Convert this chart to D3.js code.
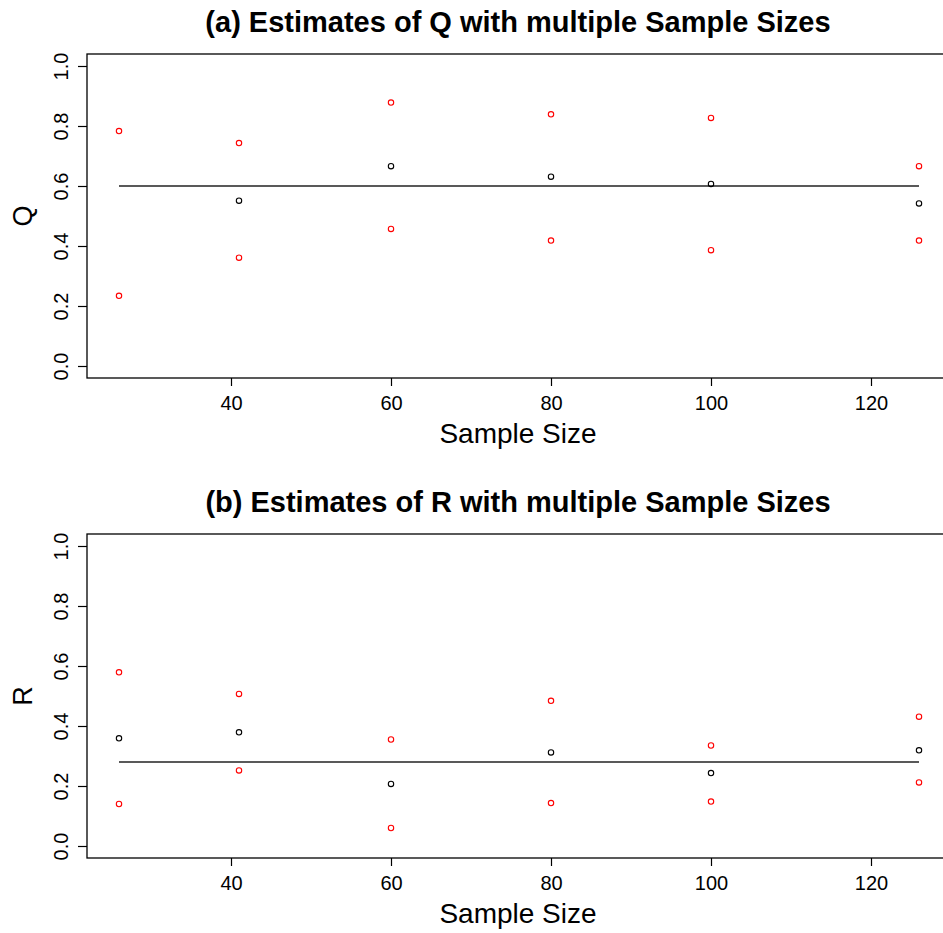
<!DOCTYPE html>
<html>
<head>
<meta charset="utf-8">
<script src="https://cdn.jsdelivr.net/npm/d3@7"></script>
<style>
  body { margin: 0; background: #fff; }
  text { font-family: "Liberation Sans", Arial, sans-serif; fill: #000; }
</style>
</head>
<body>
<div id="my_dataviz"></div>
<script>
// data
var sampleSizes = [26, 41, 60, 80, 100, 126];
var xTicks = [40, 60, 80, 100, 120];
var yTicks = [0, 0.2, 0.4, 0.6, 0.8, 1.0];

var qEst = [null, 0.551, 0.666, 0.631, 0.607, 0.542];
var qUpper = [0.783, 0.743, 0.878, 0.839, 0.827, 0.666];
var qLower = [0.234, 0.361, 0.457, 0.418, 0.386, 0.418];
var qTrue = 0.6;

var rEst = [0.359, 0.379, 0.207, 0.312, 0.243, 0.319];
var rUpper = [0.579, 0.507, 0.355, 0.484, 0.335, 0.431];
var rLower = [0.140, 0.252, 0.060, 0.143, 0.148, 0.212];
var rTrue = 0.28;

var width = 943, height = 933;

var svg = d3.select("#my_dataviz")
  .append("svg")
  .attr("width", width)
  .attr("height", height);

// shared x scale (R style 4% extension, plot runs off the right edge)
var x = d3.scaleLinear()
  .domain([22, 130])
  .range([87, 951]);

function drawPanel(top, title, yLab, est, upper, lower, trueVal) {
  var bottom = top + 324;
  var y = d3.scaleLinear()
    .domain([-0.04, 1.04])
    .range([bottom, top]);

  var g = svg.append("g");

  // title
  g.append("text")
    .attr("x", 518)
    .attr("y", top - 22)
    .attr("text-anchor", "middle")
    .style("font-size", "29px")
    .style("font-weight", "bold")
    .text(title);

  // x axis
  var xAxis = g.append("g")
    .attr("transform", "translate(0," + bottom + ")")
    .call(d3.axisBottom(x).tickValues(xTicks).tickSize(8).tickPadding(10));
  xAxis.select(".domain").remove();
  xAxis.selectAll("line").attr("stroke", "#000").attr("stroke-width", 1.2);
  xAxis.selectAll("text")
    .style("font-size", "20px")
    .style("font-family", "'Liberation Sans', Arial, sans-serif")
    .attr("fill", "#000");

  // y axis, labels rotated like R's las=0
  var yAxis = g.append("g")
    .attr("transform", "translate(87,0)")
    .call(d3.axisLeft(y).tickValues(yTicks).tickSize(9).tickFormat(d3.format(".1f")));
  yAxis.select(".domain").remove();
  yAxis.selectAll("line").attr("stroke", "#000").attr("stroke-width", 1.2);
  yAxis.selectAll("text")
    .attr("x", null).attr("dy", null)
    .attr("text-anchor", "middle")
    .attr("transform", "translate(-19,0) rotate(-90)")
    .style("font-size", "20px")
    .style("font-family", "'Liberation Sans', Arial, sans-serif")
    .attr("fill", "#000");

  // box
  g.append("rect")
    .attr("x", x.range()[0])
    .attr("y", top)
    .attr("width", x.range()[1] - x.range()[0])
    .attr("height", bottom - top)
    .attr("fill", "none")
    .attr("stroke", "#000")
    .attr("stroke-width", 1.3);

  // axis titles
  g.append("text")
    .attr("x", 518)
    .attr("y", bottom + 65)
    .attr("text-anchor", "middle")
    .style("font-size", "28px")
    .text("Sample Size");

  g.append("text")
    .attr("transform", "translate(32," + ((top + bottom) / 2) + ") rotate(-90)")
    .attr("text-anchor", "middle")
    .style("font-size", "27px")
    .text(yLab);

  // true value line
  g.append("line")
    .attr("x1", x(sampleSizes[0]))
    .attr("x2", x(sampleSizes[sampleSizes.length - 1]))
    .attr("y1", y(trueVal))
    .attr("y2", y(trueVal))
    .attr("stroke", "#222")
    .attr("stroke-width", 1.3);

  // points
  var pts = [];
  sampleSizes.forEach(function (n, i) {
    if (est[i] != null) pts.push({ n: n, v: est[i], c: "#000" });
    pts.push({ n: n, v: upper[i], c: "#ff0000" });
    pts.push({ n: n, v: lower[i], c: "#ff0000" });
  });

  g.selectAll("circle")
    .data(pts)
    .enter()
    .append("circle")
    .attr("cx", function (d) { return x(d.n); })
    .attr("cy", function (d) { return y(d.v); })
    .attr("r", 2.7)
    .attr("fill", "none")
    .attr("stroke", function (d) { return d.c; })
    .attr("stroke-width", 1.1);
}

drawPanel(54, "(a) Estimates of Q with multiple Sample Sizes", "Q", qEst, qUpper, qLower, qTrue);
drawPanel(534, "(b) Estimates of R with multiple Sample Sizes", "R", rEst, rUpper, rLower, rTrue);
</script>
</body>
</html>
